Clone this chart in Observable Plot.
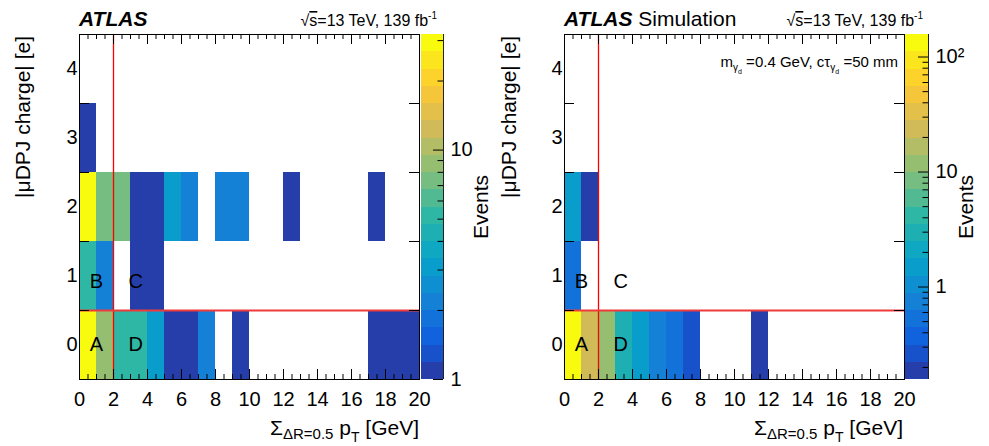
<!DOCTYPE html>
<html><head><meta charset="utf-8">
<script src="https://cdn.jsdelivr.net/npm/d3@7"></script>
<script src="https://cdn.jsdelivr.net/npm/@observablehq/plot@0.6"></script>
<style>
html,body{margin:0;padding:0;background:#fff;}
#root{position:relative;width:989px;height:446px;overflow:hidden;font-family:"Liberation Sans",Arial,Helvetica,sans-serif;}
#root > svg{position:absolute;top:0;max-width:none !important;}
</style></head><body><div id="root"></div>
<script>
// ---- data ----
const ptBinLow = [0,1,2,3,4,5,6,7,8,9,10,11,12,13,14,15,16,17,18,19];
const ptBinWidth = 1;
const chargeBins = [0,1,2,3,4];
const ptTickLabels = [0,2,4,6,8,10,12,14,16,18,20];
const regionNames = ["A","B","C","D"];
const regionPt = [1.0, 1.0, 3.3, 3.3];
const regionCharge = [0, 0.92, 0.92, 0];
const cutPt = 2;
const cutCharge = 0.5;

// Data (left panel), rows by |charge|
const dataCharge0 = [31, 9, 5, 5, 3, 1, 1, 2, 0, 1, 0, 0, 0, 0, 0, 0, 0, 1, 1, 1];
const dataCharge1 = [5, 2, 0, 1, 1, 0, 0, 0, 0, 0, 0, 0, 0, 0, 0, 0, 0, 0, 0, 0];
const dataCharge2 = [29, 7, 7, 1, 1, 3, 2, 0, 2, 2, 0, 0, 1, 0, 0, 0, 0, 1, 0, 0];
const dataCharge3 = [1, 0, 0, 0, 0, 0, 0, 0, 0, 0, 0, 0, 0, 0, 0, 0, 0, 0, 0, 0];
const dataCharge4 = [0, 0, 0, 0, 0, 0, 0, 0, 0, 0, 0, 0, 0, 0, 0, 0, 0, 0, 0, 0];
const dataZRange = [1, 31.9];

// Simulation (right panel)
const simCharge0 = [140, 24, 12, 3, 1.5, 0.75, 0.52, 0.27, 0, 0, 0, 0.19, 0, 0, 0, 0, 0, 0, 0, 0];
const simCharge1 = [0.55, 0, 0, 0, 0, 0, 0, 0, 0, 0, 0, 0, 0, 0, 0, 0, 0, 0, 0, 0];
const simCharge2 = [1.5, 0.19, 0, 0, 0, 0, 0, 0, 0, 0, 0, 0, 0, 0, 0, 0, 0, 0, 0, 0];
const simCharge3 = [0, 0, 0, 0, 0, 0, 0, 0, 0, 0, 0, 0, 0, 0, 0, 0, 0, 0, 0, 0];
const simCharge4 = [0, 0, 0, 0, 0, 0, 0, 0, 0, 0, 0, 0, 0, 0, 0, 0, 0, 0, 0, 0];
const simZRange = [0.157, 157];

const nContours = 20;
const birdStops = ["rgb(53,42,135)","rgb(15,92,221)","rgb(20,129,214)","rgb(6,164,202)","rgb(46,183,164)","rgb(135,191,119)","rgb(209,187,89)","rgb(254,200,50)","rgb(249,251,14)"];

// ---- helpers ----
const FONT = '"Liberation Sans", Arial, Helvetica, sans-serif';
const bird = d3.piecewise(d3.interpolateRgb, birdStops);
function bands(z) {
  const l0 = Math.log10(z[0]), l1 = Math.log10(z[1]);
  const thresholds = d3.range(1, nContours).map(k => Math.pow(10, l0 + (l1 - l0) * k / nContours));
  const colors = d3.range(nContours).map(k => bird((k + 0.99) / nContours));
  return {thresholds, colors};
}

const root = document.getElementById("root");
const PW = 460, PH = 446, mL = 79, mR = 41, mT = 34, mB = 67;
const fw = PW - mL - mR, fh = PH - mT - mB;

function panel(rows, zRange, left) {
  const {thresholds, colors} = bands(zRange);
  const cells = rows.flatMap((row, j) => row.map((v, i) => ({x0: ptBinLow[i], q: chargeBins[j], v}))).filter(d => d.v > 0);
  const xMinor = d3.range(0, 20.001, 0.5).filter(v => !ptTickLabels.includes(v));
  const yEdges = chargeBins.slice(1).map(c => c - 0.5);
  const svg = Plot.plot({
    width: PW, height: PH, marginLeft: mL, marginRight: mR, marginTop: mT, marginBottom: mB,
    style: {fontFamily: FONT, fontSize: "20px", background: "transparent", color: "black", overflow: "visible"},
    x: {domain: [0, 20]},
    y: {domain: [-0.5, 4.5]},
    color: {type: "threshold", domain: thresholds, range: colors},
    marks: [
      Plot.rect(cells, {x1: "x0", x2: d => d.x0 + ptBinWidth, y1: d => d.q - 0.5, y2: d => d.q + 0.5, fill: "v", shapeRendering: "crispEdges"}),
      Plot.ruleX([cutPt], {stroke: "#ff0000", strokeWidth: 1.3}),
      Plot.ruleY([cutCharge], {stroke: "#f03a3a", strokeWidth: 2}),
      Plot.tickX(ptTickLabels, {x: d => d, insetTop: fh - 10, stroke: "black"}),
      Plot.tickX(ptTickLabels, {x: d => d, insetBottom: fh - 10, stroke: "black"}),
      Plot.tickX(xMinor, {x: d => d, insetTop: fh - 5, stroke: "black"}),
      Plot.tickX(xMinor, {x: d => d, insetBottom: fh - 5, stroke: "black"}),
      Plot.tickY(yEdges, {y: d => d, insetRight: fw - 10, stroke: "black"}),
      Plot.tickY(yEdges, {y: d => d, insetLeft: fw - 10, stroke: "black"}),
      Plot.frame({stroke: "black", strokeWidth: 1.6, shapeRendering: "crispEdges"}),
      Plot.axisX({ticks: ptTickLabels, tickSize: 0, tickPadding: 12, label: null, fontSize: 20, tickFormat: d => String(d)}),
      Plot.axisY({ticks: chargeBins, tickSize: 0, tickPadding: 2, label: null, fontSize: 20, tickFormat: d => String(d)}),
      Plot.text(regionNames, {x: (d, i) => regionPt[i], y: (d, i) => regionCharge[i], text: d => d, fontSize: 20, fill: "black"})
    ]
  });
  svg.style.left = left + "px";
  root.appendChild(svg);
}

function colorbar(zRange, left, barW) {
  const {thresholds, colors} = bands(zRange);
  const edges = [zRange[0], ...thresholds, zRange[1]];
  const bandRows = colors.map((c, i) => ({lo: edges[i], hi: edges[i + 1]}));
  const tv = d3.scaleLog().domain(zRange).ticks();
  const isMajor = v => Math.abs(Math.log10(v) - Math.round(Math.log10(v))) < 1e-9;
  const majors = tv.filter(isMajor), minors = tv.filter(v => !isMajor(v));
  const W = 80;
  const svg = Plot.plot({
    width: W, height: PH, marginLeft: 0, marginRight: W - barW, marginTop: mT, marginBottom: mB,
    style: {fontFamily: FONT, fontSize: "20px", background: "transparent", color: "black", overflow: "visible"},
    x: {domain: [0, 1], axis: null},
    y: {type: "log", domain: zRange, axis: null},
    color: {type: "threshold", domain: thresholds, range: colors},
    marks: [
      Plot.rect(bandRows, {x1: 0, x2: 1, y1: "lo", y2: "hi", fill: d => Math.sqrt(d.lo * d.hi), shapeRendering: "crispEdges"}),
      Plot.ruleX([1], {stroke: "#222", strokeWidth: 1}),
      Plot.tickY(majors, {y: d => d, insetLeft: barW - 10, stroke: "black"}),
      Plot.tickY(minors, {y: d => d, insetLeft: barW - 5.5, stroke: "black"}),
      Plot.axisY({anchor: "right", ticks: majors, tickSize: 0, tickPadding: 7, label: null, fontSize: 20,
        tickFormat: d => d >= 100 ? "10" + "\u00b2" : String(d)})
    ]
  });
  svg.style.left = left + "px";
  root.appendChild(svg);
}

panel([dataCharge0, dataCharge1, dataCharge2, dataCharge3, dataCharge4], dataZRange, 0);
panel([simCharge0, simCharge1, simCharge2, simCharge3, simCharge4], simZRange, 485);
colorbar(dataZRange, 421, 22);
colorbar(simZRange, 905, 23);

// ---- text overlay ----
const ov = d3.select(root).append("svg").attr("width", 989).attr("height", 446)
  .style("left", "0px").style("font-family", FONT).style("pointer-events", "none");
function addText(x, y, parts, o = {}) {
  const t = ov.append("text").attr("x", x).attr("y", y)
    .attr("text-anchor", o.anchor || "start").attr("font-size", o.size || 20).attr("fill", "black");
  if (o.rotate) t.attr("transform", `rotate(-90 ${x} ${y})`);
  for (const p of parts) {
    const s = t.append("tspan").text(p.t);
    if (p.s) s.attr("font-size", p.s);
    if (p.dy) s.attr("dy", p.dy);
    if (p.w) s.attr("font-weight", p.w);
    if (p.i) s.attr("font-style", "italic");
    if (p.over) s.style("text-decoration", "overline");
  }
}
const sqrtParts = [{t: "\u221a"}, {t: "s", over: true}, {t: "=13 TeV, 139 fb"}, {t: "-1", s: 10, dy: -7}];
addText(79, 26, [{t: "ATLAS", w: "bold", i: true}], {size: 21});
addText(437, 26, sqrtParts, {anchor: "end", size: 16});
addText(564, 26, [{t: "ATLAS", w: "bold", i: true}, {t: " Simulation"}], {size: 21});
addText(923, 26, sqrtParts, {anchor: "end", size: 16});
addText(898, 67, [{t: "m"}, {t: "\u03b3", s: 10, dy: 4}, {t: "d", s: 7, dy: 3}, {t: "  =0.4 GeV, c\u03c4", dy: -7},
  {t: "\u03b3", s: 10, dy: 4}, {t: "d", s: 7, dy: 3}, {t: "  =50 mm", dy: -7}], {anchor: "end", size: 15});
const xTitle = [{t: "\u03a3"}, {t: "\u0394R=0.5", s: 15, dy: 4}, {t: " p", dy: -4}, {t: "T", s: 14, dy: 7}, {t: " [GeV]", dy: -7}];
addText(419, 435, xTitle, {anchor: "end", size: 21});
addText(903, 435, xTitle, {anchor: "end", size: 21});
const yTitle = [{t: "|\u03bcDPJ charge| [e]"}];
addText(30, 36, yTitle, {anchor: "end", size: 21, rotate: true});
addText(516, 36, yTitle, {anchor: "end", size: 21, rotate: true});
addText(488, 207, [{t: "Events"}], {anchor: "middle", size: 21, rotate: true});
addText(973, 207, [{t: "Events"}], {anchor: "middle", size: 21, rotate: true});
</script></body></html>
